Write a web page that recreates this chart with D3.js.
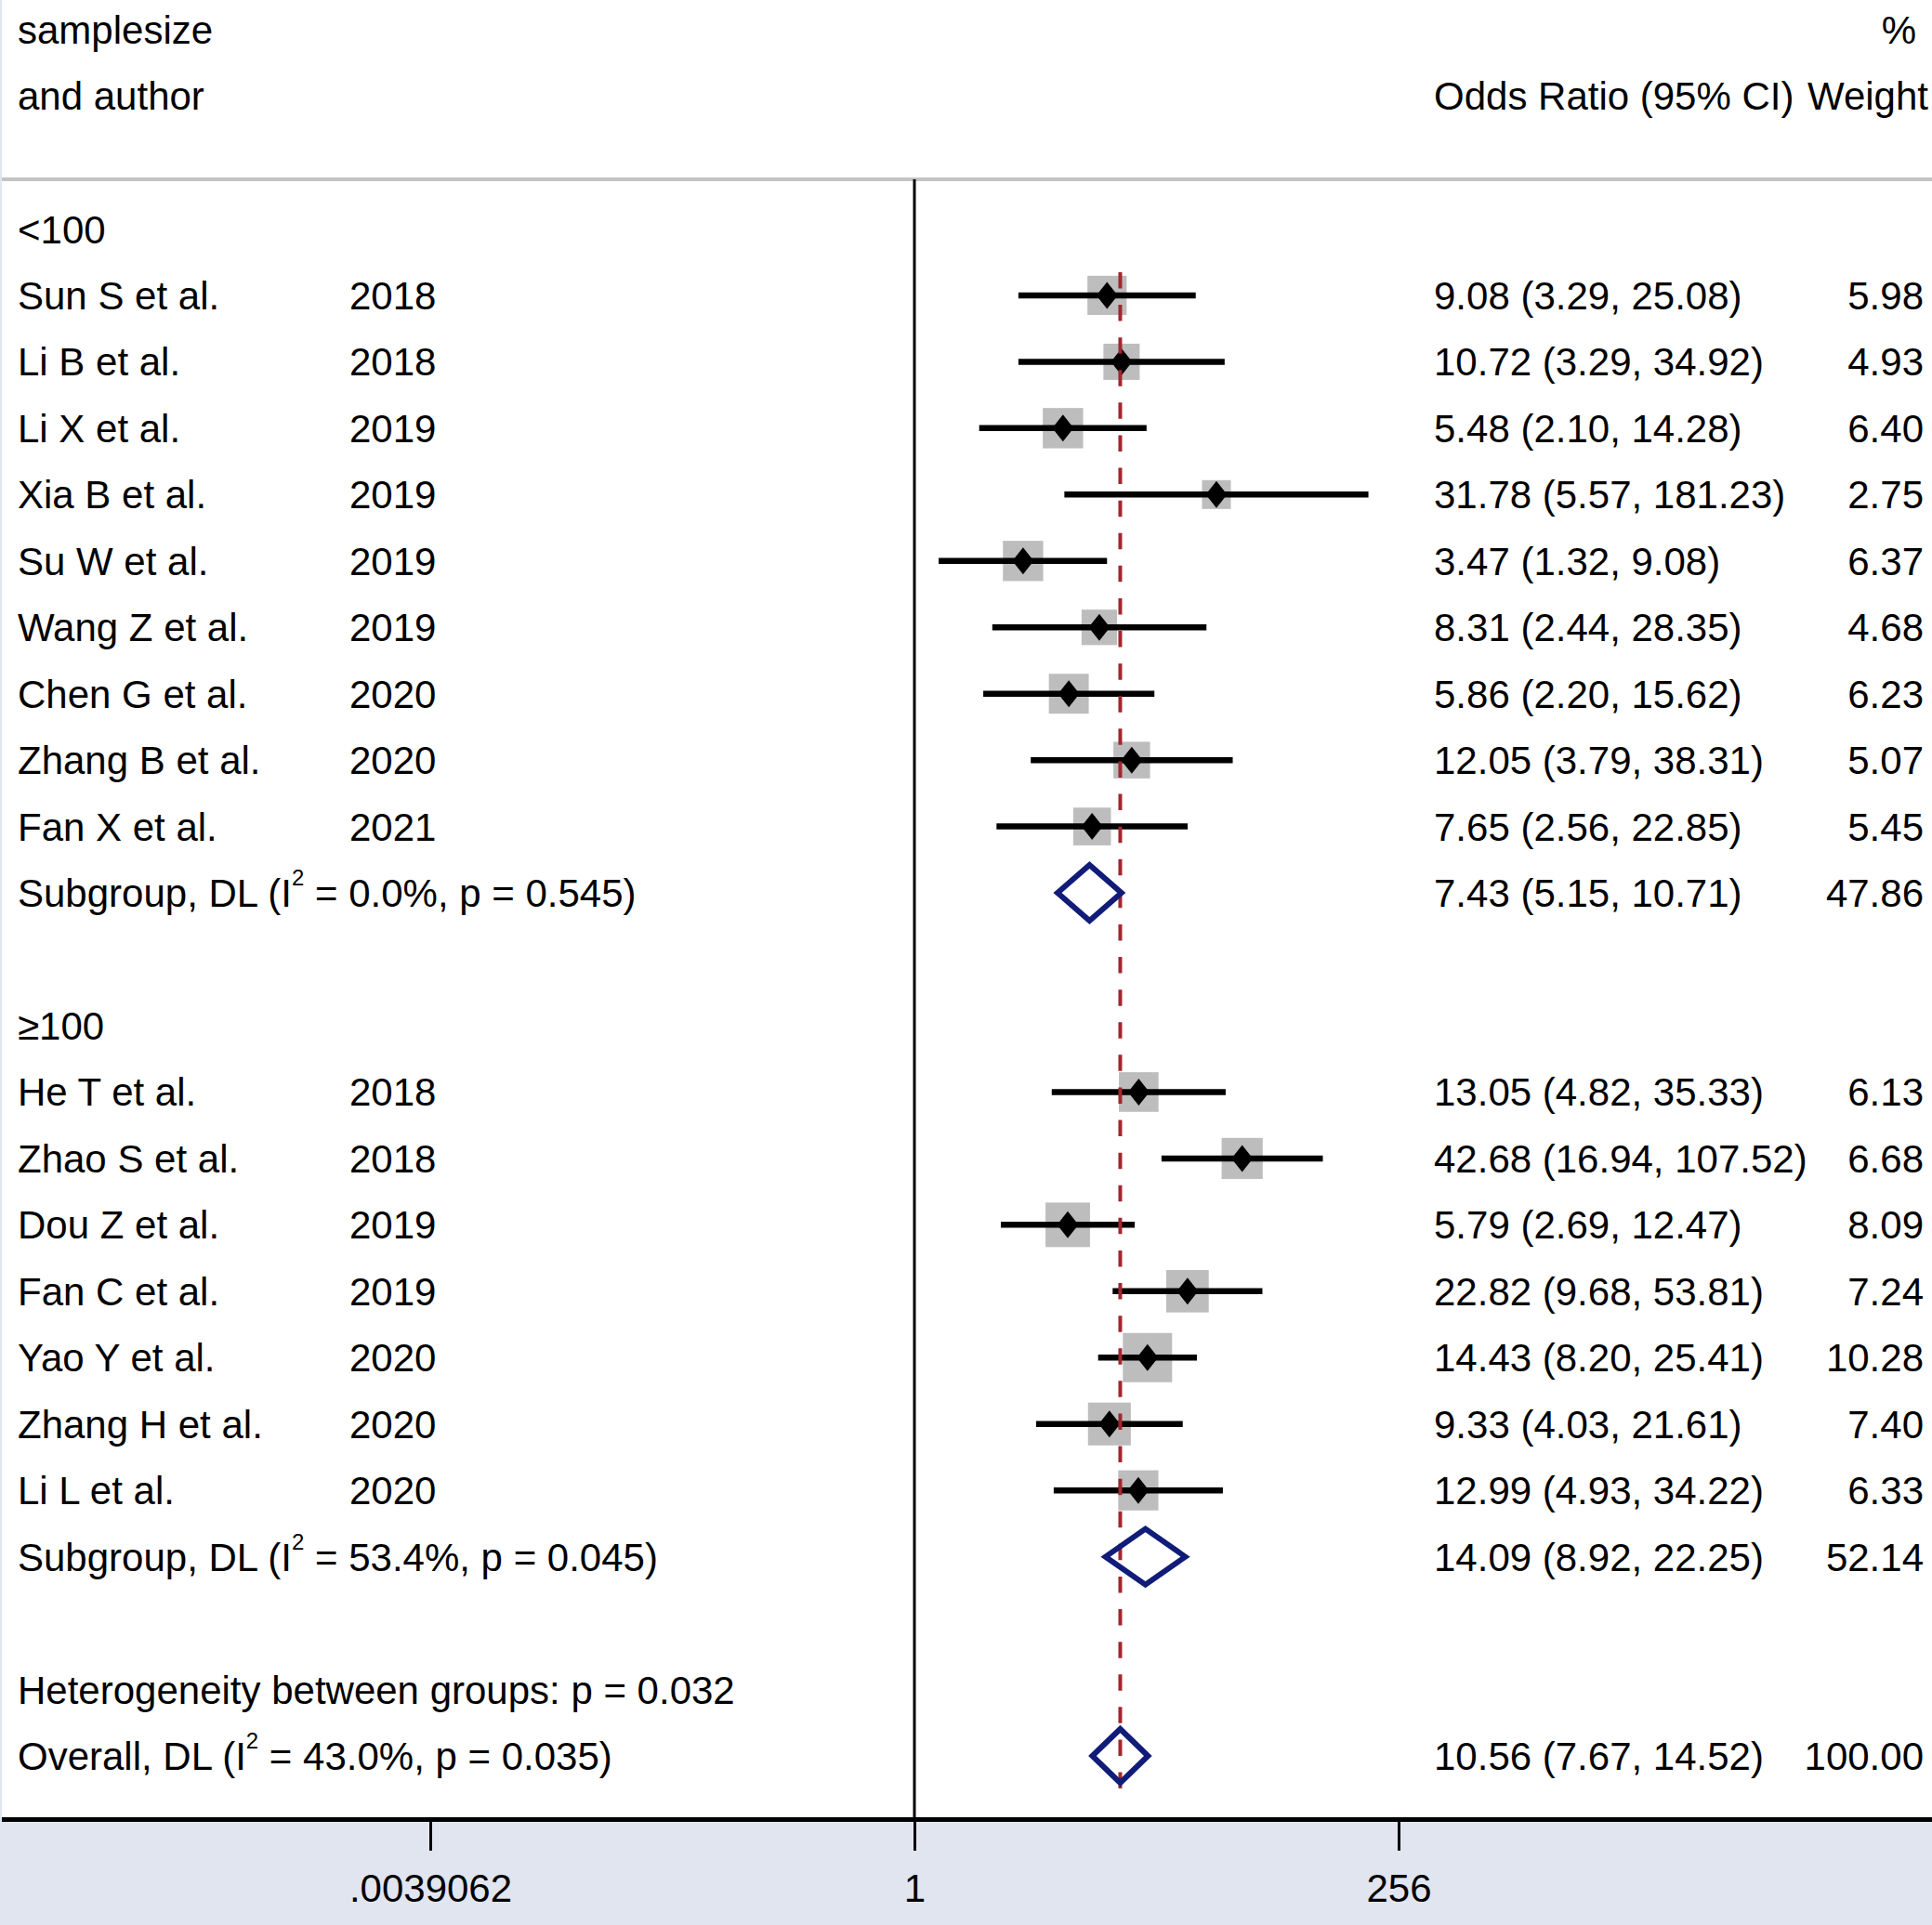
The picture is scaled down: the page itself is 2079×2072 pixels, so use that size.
<!DOCTYPE html>
<html><head><meta charset="utf-8">
<script src="https://cdn.jsdelivr.net/npm/d3@7"></script>
<style>body{margin:0;background:#fff}svg{display:block}</style>
</head><body>
<svg id="chart" width="2079" height="2072"></svg>
<script>
// ---------- data ----------
const groupLabels = ["<100", "\u2265100"];
const studyNames = ["Sun S et al.", "Li B et al.", "Li X et al.", "Xia B et al.", "Su W et al.", "Wang Z et al.", "Chen G et al.", "Zhang B et al.", "Fan X et al.",
  "He T et al.", "Zhao S et al.", "Dou Z et al.", "Fan C et al.", "Yao Y et al.", "Zhang H et al.", "Li L et al."];
const studyYears = ["2018", "2018", "2019", "2019", "2019", "2019", "2020", "2020", "2021",
  "2018", "2018", "2019", "2019", "2020", "2020", "2020"];
const studyGroup = [0, 0, 0, 0, 0, 0, 0, 0, 0, 1, 1, 1, 1, 1, 1, 1];
const studyOR = [9.08, 10.72, 5.48, 31.78, 3.47, 8.31, 5.86, 12.05, 7.65,
  13.05, 42.68, 5.79, 22.82, 14.43, 9.33, 12.99];
const studyLower = [3.29, 3.29, 2.10, 5.57, 1.32, 2.44, 2.20, 3.79, 2.56,
  4.82, 16.94, 2.69, 9.68, 8.20, 4.03, 4.93];
const studyUpper = [25.08, 34.92, 14.28, 181.23, 9.08, 28.35, 15.62, 38.31, 22.85,
  35.33, 107.52, 12.47, 53.81, 25.41, 21.61, 34.22];
const studyWeight = [5.98, 4.93, 6.40, 2.75, 6.37, 4.68, 6.23, 5.07, 5.45,
  6.13, 6.68, 8.09, 7.24, 10.28, 7.40, 6.33];
const subgroupI2 = ["0.0%", "53.4%"];
const subgroupP = ["0.545", "0.045"];
const subgroupOR = [7.43, 14.09];
const subgroupLower = [5.15, 8.92];
const subgroupUpper = [10.71, 22.25];
const subgroupWeight = [47.86, 52.14];
const betweenGroupsP = "0.032";
const overallI2 = "43.0%";
const overallP = "0.035";
const overallOR = [10.56];
const overallLower = [7.67];
const overallUpper = [14.52];
const overallWeight = [100.00];
const tickValues = [Math.pow(2, -8), 1, 256];
const tickLabels = [".0039062", "1", "256"];

// ---------- build rows ----------
const rows = [];
groupLabels.forEach((g, gi) => {
  rows.push({type: "group", label: g});
  studyNames.forEach((n, i) => {
    if (studyGroup[i] === gi) rows.push({type: "study", label: n, year: studyYears[i],
      or: studyOR[i], lo: studyLower[i], hi: studyUpper[i], w: studyWeight[i]});
  });
  rows.push({type: "sub", pre: "Subgroup, DL (I", post: " = " + subgroupI2[gi] + ", p = " + subgroupP[gi] + ")",
    or: subgroupOR[gi], lo: subgroupLower[gi], hi: subgroupUpper[gi], w: subgroupWeight[gi]});
  rows.push({type: "blank"});
});
rows.push({type: "het", label: "Heterogeneity between groups: p = " + betweenGroupsP});
rows.push({type: "overall", pre: "Overall, DL (I", post: " = " + overallI2 + ", p = " + overallP + ")",
  or: overallOR[0], lo: overallLower[0], hi: overallUpper[0], w: overallWeight[0]});
rows.forEach((r, i) => r.idx = i);

// ---------- scales ----------
const W = 2079, H = 2072;
const FONT = "'Liberation Sans', Arial, Helvetica, sans-serif";
const FS = 42;
const x = d3.scaleLog().base(2).domain([Math.pow(2, -8), 256]).range([463, 1505]);
const y = d3.scaleLinear().domain([0, rows.length - 1]).range([246.5, 1890]);
const boxSide = d3.scalePow().exponent(0.5).domain([0, 10.28]).range([7.5, 53]);
const f2 = d3.format(".2f");

const svg = d3.select("#chart").attr("font-family", FONT);
const plotBottom = 1961, headerLine = 193;

svg.append("rect").attr("width", W).attr("height", H).attr("fill", "#e1e5f0");
svg.append("rect").attr("x", 2).attr("y", 0).attr("width", W - 2).attr("height", plotBottom).attr("fill", "#ffffff");

// header
const hdr = svg.append("g").attr("font-size", FS).attr("fill", "#000");
hdr.append("text").attr("x", 19).attr("y", 47).text("samplesize");
hdr.append("text").attr("x", 19).attr("y", 118).text("and author");
hdr.append("text").attr("x", 2062).attr("y", 47).attr("text-anchor", "end").text("%");
hdr.append("text").attr("x", 1543).attr("y", 118).text("Odds Ratio (95% CI)");
hdr.append("text").attr("x", 2075).attr("y", 118).attr("text-anchor", "end").text("Weight");

svg.append("line").attr("x1", 2).attr("x2", W).attr("y1", headerLine).attr("y2", headerLine)
  .attr("stroke", "#c4c4c4").attr("stroke-width", 4);

// null line at OR = 1
svg.append("line").attr("x1", x(1)).attr("x2", x(1)).attr("y1", headerLine).attr("y2", plotBottom)
  .attr("stroke", "#000").attr("stroke-width", 3);

// study markers
const studies = rows.filter(r => r.type === "study");
const sg = svg.append("g");
sg.selectAll("rect.box").data(studies).join("rect").attr("class", "box")
  .attr("x", d => x(d.or) - boxSide(d.w) / 2).attr("y", d => y(d.idx) - boxSide(d.w) / 2)
  .attr("width", d => boxSide(d.w)).attr("height", d => boxSide(d.w)).attr("fill", "#bdbdbd");
sg.selectAll("line.ci").data(studies).join("line").attr("class", "ci")
  .attr("x1", d => x(d.lo)).attr("x2", d => x(d.hi)).attr("y1", d => y(d.idx)).attr("y2", d => y(d.idx))
  .attr("stroke", "#000").attr("stroke-width", 6.5);

// overall effect dashed line
const ovRow = rows.find(r => r.type === "overall");
svg.append("line").attr("x1", x(ovRow.or)).attr("x2", x(ovRow.or))
  .attr("y1", y(1) - 25).attr("y2", y(ovRow.idx) + 35)
  .attr("stroke", "#a3262e").attr("stroke-width", 4).attr("stroke-dasharray", "17.5 17.6");

sg.selectAll("path.pt").data(studies).join("path").attr("class", "pt")
  .attr("d", d => {
    const cx = x(d.or), cy = y(d.idx);
    return `M${cx - 11.5},${cy}L${cx},${cy - 14.5}L${cx + 11.5},${cy}L${cx},${cy + 14.5}Z`;
  }).attr("fill", "#000");

// pooled diamonds
const pooled = rows.filter(r => r.type === "sub" || r.type === "overall");
svg.append("g").selectAll("path").data(pooled).join("path")
  .attr("d", d => {
    const cy = y(d.idx), h = d.type === "overall" ? 29 : 30;
    return `M${x(d.lo)},${cy}L${x(d.or)},${cy - h}L${x(d.hi)},${cy}L${x(d.or)},${cy + h}Z`;
  }).attr("fill", "none").attr("stroke", "#101c78").attr("stroke-width", 6).attr("stroke-linejoin", "miter");

// left text
const tg = svg.append("g").attr("font-size", FS).attr("fill", "#000");
rows.forEach(r => {
  const by = y(r.idx) + 15;
  if (r.type === "group" || r.type === "het") {
    tg.append("text").attr("x", 19).attr("y", by).text(r.label);
  } else if (r.type === "study") {
    tg.append("text").attr("x", 19).attr("y", by).text(r.label);
    tg.append("text").attr("x", 376).attr("y", by).text(r.year);
  } else if (r.type === "sub" || r.type === "overall") {
    const t = tg.append("text").attr("x", 19).attr("y", by);
    t.append("tspan").text(r.pre);
    t.append("tspan").attr("font-size", 24).attr("dy", -23).text("2");
    t.append("tspan").attr("dy", 23).text(r.post);
  }
  if (r.or !== undefined) {
    tg.append("text").attr("x", 1543).attr("y", by)
      .text(`${f2(r.or)} (${f2(r.lo)}, ${f2(r.hi)})`);
    tg.append("text").attr("x", 2070).attr("y", by).attr("text-anchor", "end").text(f2(r.w));
  }
});

// bottom axis
svg.append("line").attr("x1", 2).attr("x2", W).attr("y1", plotBottom - 2.5).attr("y2", plotBottom - 2.5)
  .attr("stroke", "#000").attr("stroke-width", 5);
const ax = svg.append("g").attr("transform", `translate(0,${plotBottom})`)
  .call(d3.axisBottom(x).tickValues(tickValues).tickFormat((d, i) => tickLabels[i]).tickSizeInner(31).tickSizeOuter(0));
ax.select(".domain").remove();
ax.selectAll(".tick line").attr("stroke", "#000").attr("stroke-width", 3);
ax.selectAll(".tick text").attr("font-size", FS).attr("font-family", FONT).attr("fill", "#000")
  .attr("dy", null).attr("y", 86);
</script>
</body></html>
